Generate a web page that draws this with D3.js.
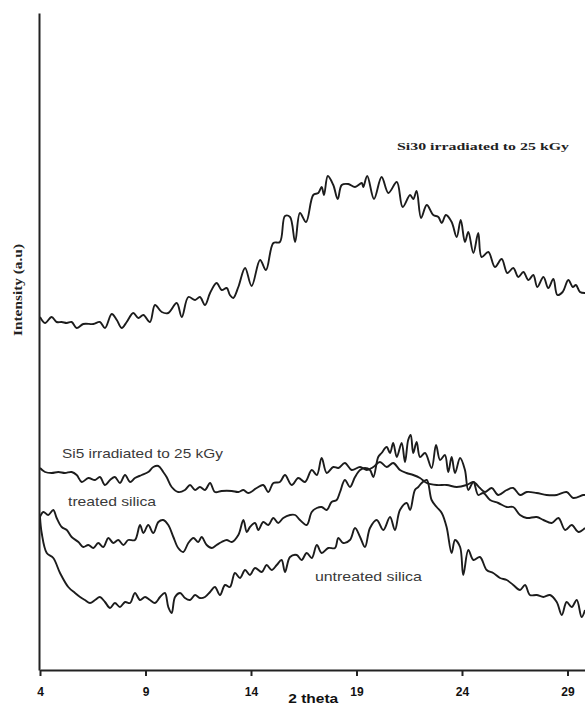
<!DOCTYPE html>
<html>

<head>
    <meta charset="utf-8">
    <style>
        body {
            margin: 0;
            background: white;
        }

        svg {
            display: block;
            overflow: hidden;
        }

        .curve {
            fill: none;
            stroke: #1c1c1c;
            stroke-width: 1.9;
            stroke-linejoin: round;
        }

        .label-sans {
            font-family: 'Liberation Sans', Arial, sans-serif;
            font-size: 13px;
            fill: #3a3a3a;
        }

        .label-serif {
            font-family: 'Liberation Serif', 'Times New Roman', serif;
            font-weight: bold;
            fill: #222;
        }
    </style>
</head>

<body>
    <svg width="585" height="705"></svg>

<script src="https://d3js.org/d3.v7.min.js"></script>

<script>
    // values: [2 theta, intensity (a.u.)]
    let si30 = [
        [4.00,353],[4.24,347],[4.55,353],[4.79,348],[5.03,348],[5.27,347],[5.50,348],[5.74,342],[6.05,346],
        [6.53,346],[6.84,348],[7.08,342],[7.40,356],[7.64,350],[7.87,342],[8.11,348],[8.42,357],[8.66,352],
        [8.90,355],[9.21,348],[9.45,365],[9.77,358],[10.08,357],[10.48,367],[10.72,353],[11.03,373],[11.35,370],
        [11.58,373],[11.82,365],[12.06,377],[12.37,387],[12.61,380],[12.85,382],[13.00,375],[13.16,372],
        [13.40,383],[13.72,402],[14.03,384],[14.43,410],[14.71,400],[15.06,427],[15.37,428],[15.61,454],
        [15.85,453],[16.09,428],[16.32,457],[16.61,448],[16.95,475],[17.19,477],[17.35,483],[17.46,475],
        [17.64,494],[17.90,485],[18.11,471],[18.30,485],[18.61,486],[18.93,483],[19.25,487],[19.32,483],
        [19.51,494],[19.83,471],[20.19,493],[20.51,477],[20.91,488],[21.19,463],[21.54,475],[21.69,471],
        [21.85,479],[22.06,452],[22.33,465],[22.64,455],[22.88,453],[23.04,447],[23.24,455],[23.51,448],
        [23.75,433],[23.94,450],[24.14,428],[24.30,438],[24.54,417],[24.77,437],[24.93,413],[25.25,418],
        [25.56,403],[25.88,411],[26.15,397],[26.43,402],[26.67,393],[26.91,398],[27.15,390],[27.38,395],
        [27.57,383],[27.86,393],[28.09,382],[28.33,391],[28.52,375],[28.77,378],[29.04,390],[29.25,383],
        [29.40,385],[29.59,378],[29.83,377]
    ];

    let si5 = [
        [4.00,202],[4.24,198],[4.55,197],[4.87,198],[5.18,197],[5.50,198],[5.74,195],[5.98,188],[6.29,192],
        [6.61,190],[6.84,193],[7.08,185],[7.32,190],[7.55,193],[7.79,187],[8.03,195],[8.27,188],[8.50,192],
        [8.82,195],[9.13,198],[9.37,203],[9.61,204],[9.84,198],[10.00,193],[10.24,183],[10.55,178],[10.87,180],
        [11.11,185],[11.35,180],[11.58,183],[11.82,180],[12.06,187],[12.29,178],[12.61,179],[13.09,179],
        [13.40,178],[13.64,180],[13.87,177],[14.27,182],[14.58,185],[14.82,178],[15.06,187],[15.37,188],
        [15.61,195],[15.93,185],[16.24,192],[16.56,188],[16.88,200],[17.12,195],[17.35,212],[17.59,197],
        [17.90,203],[18.14,202],[18.45,207],[18.77,200],[19.17,203],[19.49,200],[19.80,203],[20.11,208],
        [20.43,203],[20.74,207],[21.06,200],[21.37,197],[21.69,195],[22.01,192],[22.33,187],[22.80,185],
        [23.28,185],[23.75,183],[24.22,185],[24.54,188],[24.85,182],[25.09,178],[25.41,182],[25.72,175],
        [26.12,180],[26.43,182],[26.75,175],[27.07,178],[27.54,177],[28.01,175],[28.49,175],[28.96,178],
        [29.27,172],[29.75,175],[29.83,175]
    ];

    let treated = [
        [4.00,153],[4.16,158],[4.39,155],[4.63,160],[4.79,152],[5.03,143],[5.27,140],[5.50,133],[5.82,128],
        [6.05,123],[6.29,125],[6.53,122],[6.76,127],[7.00,123],[7.24,132],[7.47,127],[7.71,130],[7.95,125],
        [8.18,130],[8.50,130],[8.74,145],[8.90,137],[9.13,145],[9.37,137],[9.61,148],[9.84,150],[10.08,145],
        [10.32,133],[10.55,122],[10.79,118],[11.03,127],[11.27,132],[11.50,128],[11.66,133],[11.90,125],
        [12.14,122],[12.37,125],[12.61,128],[12.85,130],[13.09,128],[13.40,135],[13.64,150],[13.80,138],
        [13.95,143],[14.19,147],[14.35,140],[14.58,148],[14.82,145],[15.06,152],[15.29,147],[15.53,152],
        [15.85,155],[16.09,155],[16.32,150],[16.64,145],[16.88,158],[17.12,162],[17.35,163],[17.59,160],
        [17.82,168],[18.06,170],[18.22,178],[18.45,190],[18.69,183],[18.93,193],[19.17,200],[19.40,202],
        [19.64,200],[19.80,193],[20.03,213],[20.19,217],[20.43,223],[20.59,217],[20.74,227],[20.91,213],
        [21.14,227],[21.30,208],[21.45,230],[21.57,235],[21.69,217],[21.85,228],[22.01,213],[22.25,217],
        [22.56,202],[22.77,225],[22.96,210],[23.19,215],[23.35,198],[23.51,213],[23.67,197],[23.91,212],
        [24.14,200],[24.30,180],[24.54,188],[24.77,175],[25.01,177],[25.33,170],[25.72,167],[26.12,163],
        [26.43,163],[26.75,155],[27.07,152],[27.54,153],[27.86,150],[28.25,147],[28.57,152],[28.89,140],
        [29.20,145],[29.52,138],[29.83,142]
    ];

    let untreated = [
        [4.00,153],[4.08,137],[4.32,117],[4.63,112],[4.95,97],[5.34,83],[5.66,77],[5.90,73],[6.13,70],
        [6.37,67],[6.61,70],[6.84,73],[7.08,68],[7.32,62],[7.55,67],[7.79,63],[8.03,68],[8.27,67],[8.50,77],
        [8.74,70],[8.98,73],[9.21,70],[9.45,67],[9.69,73],[9.92,77],[10.08,63],[10.24,57],[10.40,73],
        [10.64,77],[10.87,72],[11.11,70],[11.35,75],[11.58,72],[11.82,73],[12.06,78],[12.29,83],[12.53,75],
        [12.77,85],[13.00,83],[13.24,97],[13.48,92],[13.72,100],[13.95,95],[14.19,102],[14.51,98],[14.74,105],
        [14.98,100],[15.22,105],[15.45,110],[15.61,98],[15.85,113],[16.17,115],[16.40,110],[16.64,117],
        [16.88,112],[17.12,125],[17.35,117],[17.66,122],[17.98,122],[18.14,132],[18.37,127],[18.69,130],
        [18.93,142],[19.17,133],[19.40,123],[19.64,142],[19.96,150],[20.27,140],[20.59,153],[20.82,140],
        [21.06,160],[21.38,167],[21.54,160],[21.77,180],[21.93,183],[22.09,187],[22.33,190],[22.56,170],
        [22.80,163],[23.04,157],[23.27,143],[23.51,117],[23.67,130],[23.91,123],[24.06,95],[24.30,120],
        [24.54,110],[24.85,113],[25.17,100],[25.48,97],[25.80,92],[26.12,90],[26.43,85],[26.75,80],
        [26.99,85],[27.22,75],[27.54,75],[27.86,73],[28.17,75],[28.49,68],[28.73,55],[28.96,68],[29.20,63],
        [29.44,70],[29.67,53],[29.83,60]
    ];

    let xTicks = [4, 9, 14, 19, 24, 29];

    // curve labels: text, 2 theta, intensity
    let labelText = ["Si30 irradiated to 25 kGy", "Si5 irradiated to 25 kGy", "treated silica", "untreated silica"];
    let labelTheta = [20.92, 5.04, 5.33, 17.03];
    let labelInt = [520, 212, 164, 89];

    let width = 585;
    let height = 705;

    let svg = d3.select("svg");

    let x = d3.scaleLinear()
        .domain([4, 29.83])
        .range([40, 585]);

    let y = d3.scaleLinear()
        .domain([0, 657])
        .range([670, 13]);

    let line = d3.line()
        .x(d => x(d[0]))
        .y(d => y(d[1]))
        .curve(d3.curveCatmullRom.alpha(0.5));

    svg.selectAll(".curve")
        .data([si30, si5, treated, untreated])
        .join("path")
        .attr("class", "curve")
        .attr("d", line);

    // AXES --------
    let xAxis = svg.append("g")
        .attr("transform", "translate(0," + y(0) + ")")
        .call(d3.axisBottom(x)
            .tickValues(xTicks)
            .tickSize(6)
            .tickSizeOuter(0)
            .tickPadding(11));

    xAxis.select(".domain")
        .attr("stroke", "#222")
        .attr("stroke-width", 2);

    xAxis.selectAll(".tick line")
        .attr("stroke", "#222")
        .attr("stroke-width", 2);

    xAxis.selectAll(".tick text")
        .attr("font-family", "'Liberation Sans', Arial, sans-serif")
        .attr("font-weight", "bold")
        .attr("font-size", 12)
        .attr("fill", "#111");

    let yAxis = svg.append("g")
        .attr("transform", "translate(" + (x(4) - 1) + ",0)")
        .call(d3.axisLeft(y).tickValues([]).tickSizeOuter(0));

    yAxis.select(".domain")
        .attr("stroke", "#222")
        .attr("stroke-width", 2);

    // axis titles
    svg.append("text")
        .attr("class", "label-serif")
        .attr("transform", "translate(22," + y(380) + ") rotate(-90)")
        .attr("text-anchor", "middle")
        .attr("font-size", 13)
        .attr("textLength", 92)
        .attr("lengthAdjust", "spacingAndGlyphs")
        .text("Intensity (a.u)");

    svg.append("text")
        .attr("x", x(16.95))
        .attr("y", 703)
        .attr("text-anchor", "middle")
        .attr("font-family", "'Liberation Sans', Arial, sans-serif")
        .attr("font-weight", "bold")
        .attr("font-size", 12)
        .attr("fill", "#111")
        .attr("textLength", 50)
        .attr("lengthAdjust", "spacingAndGlyphs")
        .text("2 theta");

    // CURVE LABELS -------
    let labelLen = [172, 161, 88, 107];

    svg.selectAll(".curve-label")
        .data(labelText)
        .join("text")
        .attr("class", (d, i) => i == 0 ? "curve-label label-serif" : "curve-label label-sans")
        .attr("font-size", (d, i) => i == 0 ? 11 : 13)
        .attr("x", (d, i) => x(labelTheta[i]))
        .attr("y", (d, i) => y(labelInt[i]))
        .attr("textLength", (d, i) => labelLen[i])
        .attr("lengthAdjust", "spacingAndGlyphs")
        .text(d => d);

</script>
</body>

</html>
